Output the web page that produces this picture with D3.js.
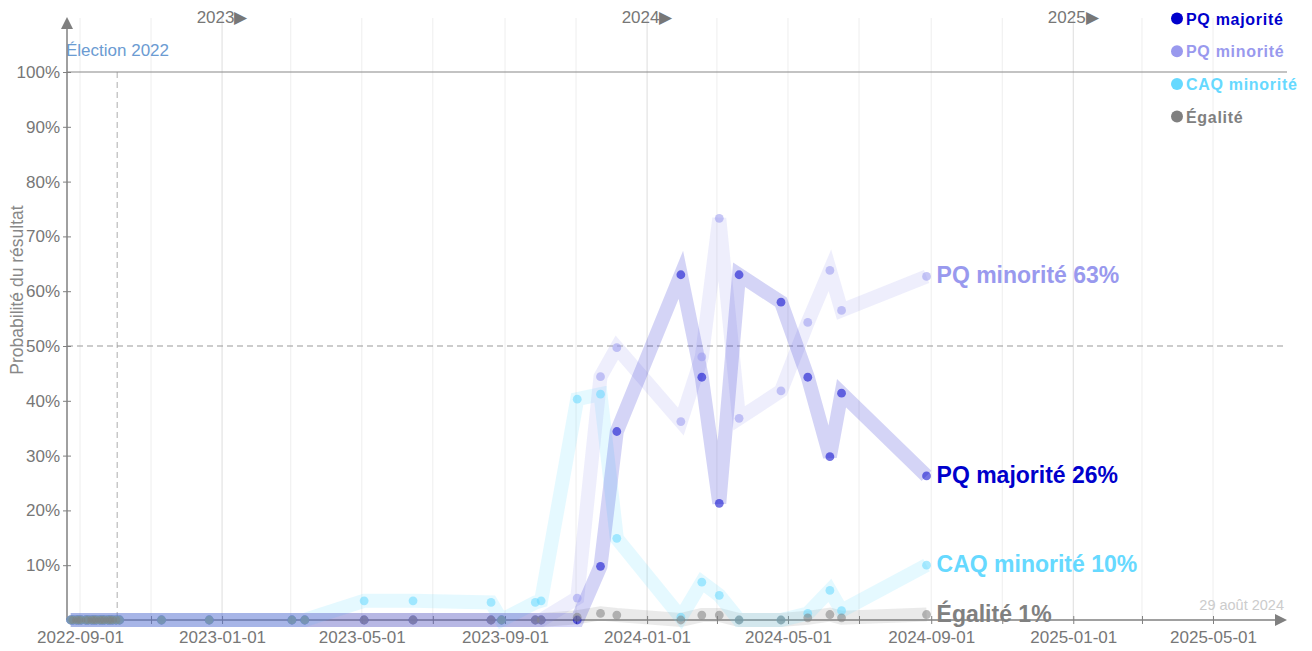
<!DOCTYPE html>
<html>
<head>
<meta charset="utf-8">
<script src="https://cdn.jsdelivr.net/npm/d3@7"></script>
<style>
  body { margin: 0; background: #fff; }
  svg { font-family: "Liberation Sans", Arial, sans-serif; }
</style>
</head>
<body>
<svg id="chart" width="1312" height="651"></svg>
<script>
(function() {

    // dates des sondages
    var pollDates = [
        "2022-08-24", "2022-08-26", "2022-08-29", "2022-08-31", "2022-09-02", "2022-09-06",
        "2022-09-08", "2022-09-11", "2022-09-13", "2022-09-15", "2022-09-18", "2022-09-20",
        "2022-09-22", "2022-09-25", "2022-09-27", "2022-09-29", "2022-10-02", "2022-10-05",
        "2022-11-10", "2022-12-21", "2023-03-02", "2023-03-13", "2023-05-03", "2023-06-14",
        "2023-08-20", "2023-08-29", "2023-09-27", "2023-10-02", "2023-11-02", "2023-11-22",
        "2023-12-06", "2024-01-30", "2024-02-17", "2024-03-03", "2024-03-20", "2024-04-25",
        "2024-05-18", "2024-06-06", "2024-06-16", "2024-08-28"
    ];

    // probabilités (%)
    var pqMajorite = [
        0, 0, 0, 0, 0, 0, 0, 0, 0, 0, 0, 0, 0, 0, 0, 0, 0, 0,
        0, 0, 0, 0, 0, 0, 0, 0, 0, 0, 0, 9.8, 34.4, 63, 44.3, 21.3, 63, 58, 44.3, 29.8, 41.4, 26.3
    ];
    var pqMinorite = [
        0, 0, 0, 0, 0, 0, 0, 0, 0, 0, 0, 0, 0, 0, 0, 0, 0, 0,
        0, 0, 0, 0, 0, 0, 0, 0, 0, 0, 4, 44.4, 49.7, 36.2, 48, 73.3, 36.8, 41.8, 54.3, 63.8, 56.5, 62.7
    ];
    var caqMinorite = [
        0, 0, 0, 0, 0, 0, 0, 0, 0, 0, 0, 0, 0, 0, 0, 0, 0, 0,
        0, 0, 0, 0, 3.5, 3.5, 3.2, 0, 3.2, 3.5, 40.3, 41.2, 14.9, 0.5, 6.9, 4.5, 0, 0, 1.2, 5.4, 1.7, 10
    ];
    var egalite = [
        0, 0, 0, 0, 0, 0, 0, 0, 0, 0, 0, 0, 0, 0, 0, 0, 0, 0,
        0, 0, 0, 0, 0, 0, 0, 0, 0, 0, 0.5, 1.2, 0.9, 0, 0.9, 0.9, 0, 0, 0.4, 1, 0.4, 1
    ];

    var seriesNames = ["PQ majorité", "PQ minorité", "CAQ minorité", "Égalité"];
    var seriesColors = ["#0000cc", "#9999ee", "#66d9ff", "#808080"];
    var seriesValues = [pqMajorite, pqMinorite, caqMinorite, egalite];

    var yTicks = [0.1, 0.2, 0.3, 0.4, 0.5, 0.6, 0.7, 0.8, 0.9, 1.0];
    var yearLabels = ["2023", "2024", "2025"];
    var electionDate = "2022-10-03";
    var updateLabel = "29 août 2024";

    var parse = d3.timeParse("%Y-%m-%d");
    var svg = d3.select("#chart");

    var x = d3.scaleTime()
        .domain([parse("2022-09-01"), parse("2025-05-01")])
        .range([80, 1213]);
    var y = d3.scaleLinear().domain([0, 1]).range([620, 72]);

    var x0 = 67, x1 = 1287, yTop = 17;
    var axisColor = "#808080";

    // grille verticale
    var gridDates = d3.timeMonth.every(2).range(parse("2022-09-01"), parse("2025-07-01"));
    svg.append("g").selectAll("line")
        .data(gridDates).enter()
        .append("line")
        .attr("x1", function(d) { return x(d); })
        .attr("x2", function(d) { return x(d); })
        .attr("y1", 18)
        .attr("y2", 620)
        .attr("stroke", function(d) { return d.getMonth() === 0 ? "#dddddd" : "#eeeeee"; })
        .attr("stroke-width", 1);

    // étiquettes d'année
    svg.append("g").selectAll("text")
        .data(yearLabels).enter()
        .append("text")
        .attr("x", function(d) { return x(parse(d + "-01-01")); })
        .attr("y", 23)
        .attr("text-anchor", "middle")
        .attr("fill", "#777")
        .style("font-size", "17px")
        .text(function(d) { return d + "\u25B6"; });

    // ligne élection
    svg.append("line")
        .attr("x1", x(parse(electionDate))).attr("x2", x(parse(electionDate)))
        .attr("y1", y(1)).attr("y2", 620)
        .attr("stroke", "#c8c8c8")
        .attr("stroke-width", 1.5)
        .attr("stroke-dasharray", "6,4");
    svg.append("text")
        .attr("x", 66).attr("y", 56)
        .attr("fill", "#6b9bd2")
        .style("font-size", "17px")
        .text("Élection 2022");

    // 100% et 50%
    svg.append("line")
        .attr("x1", x0).attr("x2", x1)
        .attr("y1", y(1)).attr("y2", y(1))
        .attr("stroke", "#888").attr("stroke-width", 1.2);
    svg.append("line")
        .attr("x1", x0).attr("x2", x1)
        .attr("y1", y(0.5)).attr("y2", y(0.5))
        .attr("stroke", "#999").attr("stroke-width", 1.2)
        .attr("stroke-dasharray", "6,4");

    // axe Y
    var yAxis = d3.axisLeft(y).tickValues(yTicks).tickFormat(d3.format(".0%")).tickSize(4).tickPadding(3);
    var gy = svg.append("g").attr("transform", "translate(" + x0 + ",0)").call(yAxis);
    gy.select(".domain").remove();
    gy.selectAll(".tick line").attr("x1", -4).attr("x2", 4).attr("stroke", axisColor);
    gy.selectAll(".tick text").attr("fill", "#777").style("font-size", "17px")
        .style("font-family", "Liberation Sans, Arial, sans-serif");

    // axe X
    var xAxis = d3.axisBottom(x).tickValues(gridDates).tickSize(4).tickPadding(7)
        .tickFormat(function(d) { return d.getMonth() % 4 === 0 ? d3.timeFormat("%Y-%m-%d")(d) : ""; });
    var gx = svg.append("g").attr("transform", "translate(0,620)").call(xAxis);
    gx.select(".domain").remove();
    gx.selectAll(".tick line").attr("y1", -4).attr("y2", 4).attr("stroke", axisColor);
    gx.selectAll(".tick text").attr("fill", "#777").style("font-size", "17px")
        .style("font-family", "Liberation Sans, Arial, sans-serif");

    // lignes d'axes avec flèches
    svg.append("line").attr("x1", x0).attr("x2", x1 - 8).attr("y1", 620).attr("y2", 620)
        .attr("stroke", axisColor).attr("stroke-width", 1.5);
    svg.append("path").attr("d", "M" + x1 + ",620 L" + (x1 - 12) + ",614 L" + (x1 - 12) + ",626 Z")
        .attr("fill", axisColor);
    svg.append("line").attr("x1", x0).attr("x2", x0).attr("y1", 620).attr("y2", yTop + 8)
        .attr("stroke", axisColor).attr("stroke-width", 1.5);
    svg.append("path").attr("d", "M" + x0 + "," + yTop + " L" + (x0 - 6) + "," + (yTop + 12) + " L" + (x0 + 6) + "," + (yTop + 12) + " Z")
        .attr("fill", axisColor);

    // titre Y
    svg.append("text")
        .attr("transform", "translate(23,290) rotate(-90)")
        .attr("text-anchor", "middle")
        .attr("fill", "#888")
        .style("font-size", "17.5px")
        .text("Probabilité du résultat");

    // séries
    var series = seriesNames.map(function(name, i) {
        return {
            name: name,
            color: seriesColors[i],
            points: pollDates.map(function(d, j) { return { date: parse(d), v: seriesValues[i][j] / 100 }; })
        };
    });

    var line = d3.line()
        .x(function(d) { return x(d.date); })
        .y(function(d) { return y(d.v); });

    var bandOrder = [3, 2, 1, 0];
    var dotOrder = [0, 1, 2, 3];

    svg.append("g").selectAll("path")
        .data(bandOrder.map(function(i) { return series[i]; })).enter()
        .append("path")
        .attr("d", function(d) { return line(d.points); })
        .attr("fill", "none")
        .attr("stroke", function(d) { return d.color; })
        .attr("stroke-width", 14)
        .attr("stroke-linejoin", "miter")
        .attr("stroke-opacity", 0.17);

    dotOrder.forEach(function(i) {
        var s = series[i];
        svg.append("g").selectAll("circle")
            .data(s.points).enter()
            .append("circle")
            .attr("cx", function(d) { return x(d.date); })
            .attr("cy", function(d) { return y(d.v); })
            .attr("r", 4.4)
            .attr("fill", s.color)
            .attr("fill-opacity", 0.55);
    });

    // étiquettes de fin
    svg.append("g").selectAll("text")
        .data(series).enter()
        .append("text")
        .attr("x", function(d) { return x(d.points[d.points.length - 1].date) + 10; })
        .attr("y", function(d) { return y(d.points[d.points.length - 1].v) + 7; })
        .attr("fill", function(d) { return d.color; })
        .style("font-size", "23px")
        .style("font-weight", "bold")
        .text(function(d) { return d.name + " " + Math.round(d.points[d.points.length - 1].v * 100) + "%"; });

    // date de mise à jour
    svg.append("text")
        .attr("x", 1284).attr("y", 610)
        .attr("text-anchor", "end")
        .attr("fill", "#cccccc")
        .style("font-size", "14.5px")
        .text(updateLabel);

    // légende
    var legend = svg.append("g").selectAll("g")
        .data(series).enter()
        .append("g")
        .attr("transform", function(d, i) { return "translate(1177," + (18.5 + i * 32.7) + ")"; });
    legend.append("circle").attr("r", 6).attr("fill", function(d) { return d.color; });
    legend.append("text")
        .attr("x", 9).attr("y", 6)
        .attr("fill", function(d) { return d.color; })
        .style("font-size", "16px")
        .style("font-weight", "bold")
        .style("letter-spacing", "0.7px")
        .text(function(d) { return d.name; });

})();
</script>
</body>
</html>
